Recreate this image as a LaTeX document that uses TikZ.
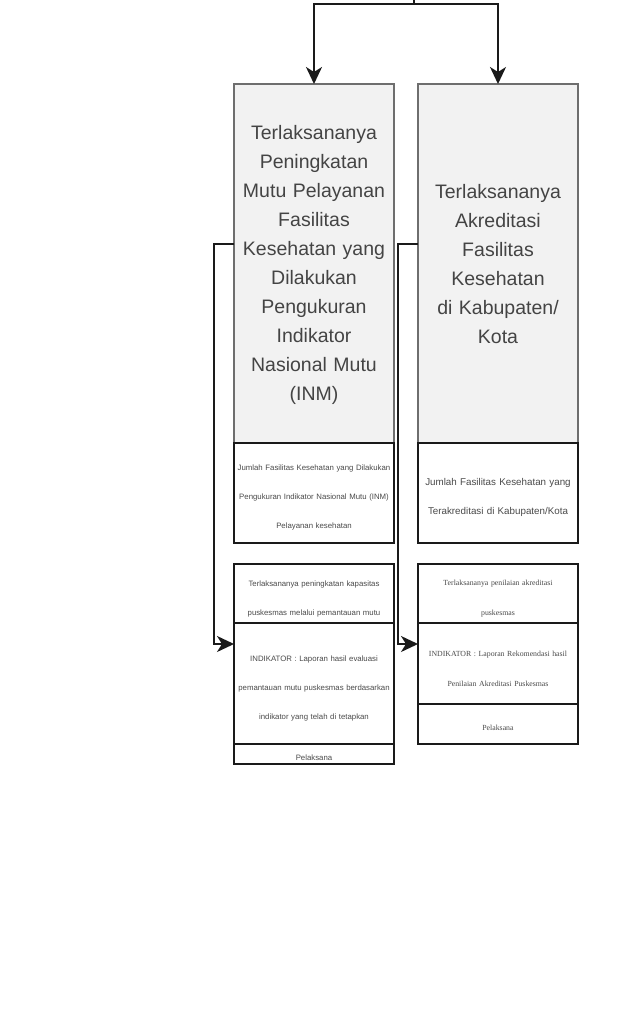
\documentclass[tikz,border=0pt]{standalone}
\usepackage{fontspec}
\setmainfont{Liberation Sans}
\newfontfamily\serifx{Liberation Serif}
\usetikzlibrary{arrows.meta}
\definecolor{bigfill}{HTML}{F2F2F2}
\definecolor{bigline}{HTML}{6E6E6E}
\definecolor{bigtxt}{HTML}{444444}
\definecolor{smalltxt}{HTML}{4A4A4A}
\definecolor{edge}{HTML}{1A1A1A}
\tikzset{
  bigbox/.style={draw=bigline, fill=bigfill, line width=1.3pt, minimum width=160pt,
    minimum height=359pt, anchor=north west, inner sep=0pt, outer sep=0pt},
  bigtext/.style={font=\fontsize{19.5}{29}\selectfont, text width=158pt, align=center,
    text=bigtxt, inner sep=0pt},
  smallbox/.style={draw=edge, fill=white, line width=2pt, minimum width=160pt,
    anchor=north west, inner sep=0pt, outer sep=0pt},
  smalltext/.style={font=\fontsize{7.8}{29}\selectfont, text width=158pt, align=center,
    text=smalltxt, inner sep=0pt},
  midtext/.style={font=\fontsize{9.8}{29}\selectfont, text width=158pt, align=center,
    text=smalltxt, inner sep=0pt},
  arr/.style={draw=edge, line width=2pt, -{Stealth[length=17pt,width=16pt,inset=5pt]}},
}
\begin{document}
\begin{tikzpicture}[x=1pt,y=-1pt]
\useasboundingbox (0,0) rectangle (618,1009);

% big boxes
\node[bigbox] (inm) at (234,84) {};
\node[bigtext] (inmt) at ([yshift=-1pt]inm.center) {Terlaksananya\\Peningkatan\\Mutu Pelayanan\\Fasilitas\\Kesehatan yang\\Dilakukan\\Pengukuran\\Indikator\\Nasional Mutu\\(INM)};
\node[bigbox] (akr) at (418,84) {};
\node[bigtext] (akrt) at ([yshift=-1pt]akr.center) {Terlaksananya\\Akreditasi\\Fasilitas\\Kesehatan\\di Kabupaten/\\Kota};

% left column small boxes
\node[smallbox, minimum height=100pt] (l1) at (234,443) {};
\node[smalltext] (l1t) at ([yshift=-4.5pt]l1.center) {Jumlah Fasilitas Kesehatan yang Dilakukan\\Pengukuran Indikator Nasional Mutu (INM)\\Pelayanan kesehatan};
\node[smallbox, minimum height=59pt] (l2) at (234,564) {};
\node[smalltext] (l2t) at ([yshift=-5pt]l2.center) {Terlaksananya peningkatan kapasitas\\puskesmas melalui pemantauan mutu};
\node[smallbox, minimum height=121pt] (l3) at (234,623) {};
\node[smalltext] (l3t) at ([yshift=-5pt]l3.center) {INDIKATOR : Laporan hasil evaluasi\\pemantauan mutu puskesmas berdasarkan\\indikator yang telah di tetapkan};
\node[smallbox, minimum height=20pt] (l4) at (234,744) {};
\node[smalltext] (l4t) at ([yshift=-4pt]l4.center) {Pelaksana};

% right column small boxes
\node[smallbox, minimum height=100pt] (r1) at (418,443) {};
\node[midtext] (r1t) at ([yshift=-4.5pt]r1.center) {Jumlah Fasilitas Kesehatan yang\\Terakreditasi di Kabupaten/Kota};
\node[smallbox, minimum height=59pt] (r2) at (418,564) {};
\node[smalltext, font=\serifx\fontsize{7.8}{30}\selectfont] (r2t) at ([yshift=-5pt]r2.center) {Terlaksananya penilaian akreditasi\\puskesmas};
\node[smallbox, minimum height=81pt] (r3) at (418,623) {};
\node[smalltext, font=\serifx\fontsize{7.8}{30}\selectfont] (r3t) at ([yshift=-5pt]r3.center) {INDIKATOR : Laporan Rekomendasi hasil\\Penilaian Akreditasi Puskesmas};
\node[smallbox, minimum height=40pt] (r4) at (418,704) {};
\node[smalltext, font=\serifx\fontsize{7.8}{30}\selectfont] (r4t) at ([yshift=-4pt]r4.center) {Pelaksana};

% coordinates
\coordinate (top) at (414,0);
\coordinate (lout) at (234,244);
\coordinate (lin) at (234,644);
\coordinate (rout) at (418,244);
\coordinate (rin) at (418,644);

% top connectors
\draw[arr] (top) -- (414,3.5) -| (inm.north);
\draw[arr] (top) -- (414,3.5) -| (akr.north);

% side connectors
\draw[arr] (lout) -- (214,244) |- (lin);
\draw[arr] (rout) -- (398,244) |- (rin);
\end{tikzpicture}
\end{document}
